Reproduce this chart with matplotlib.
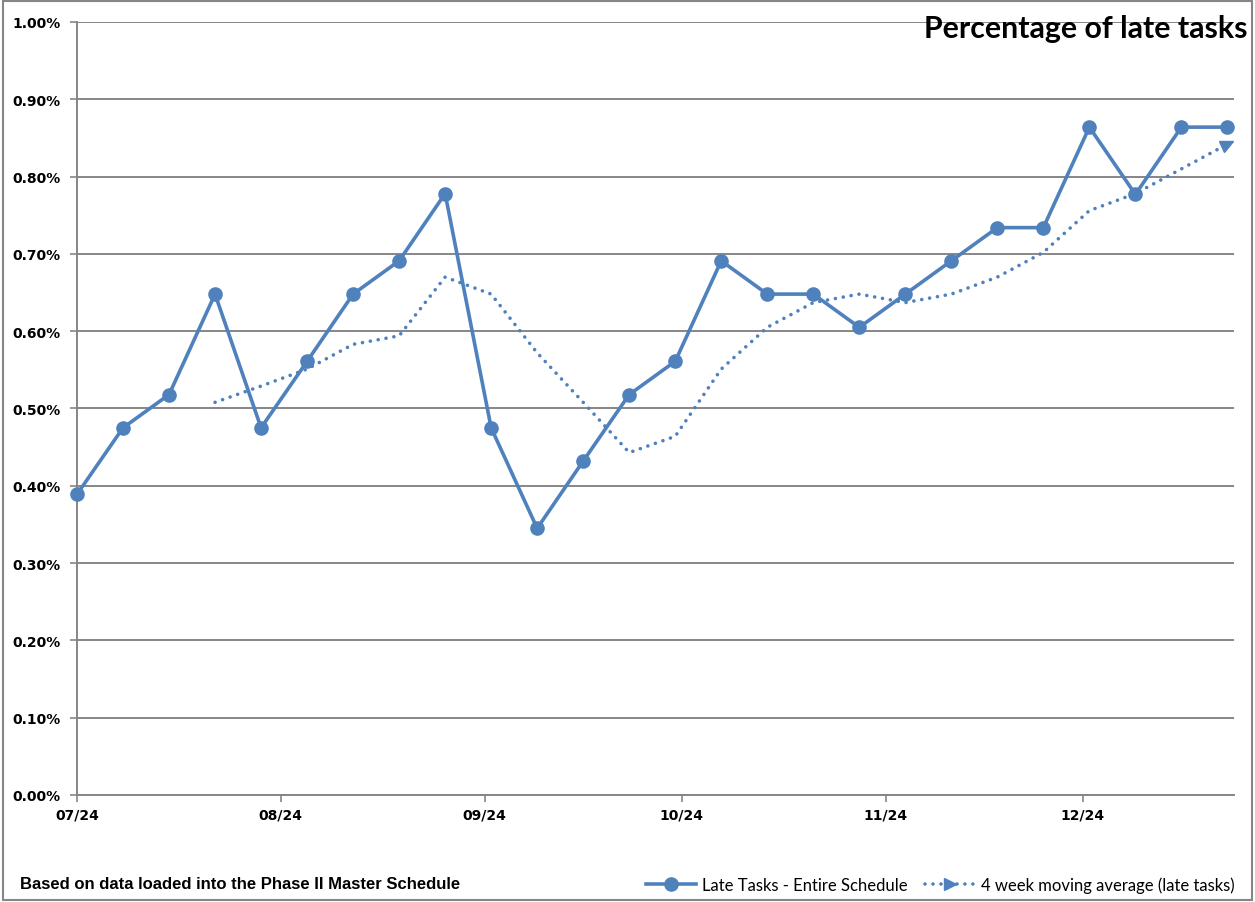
import numpy as np
import matplotlib.pyplot as plt
import matplotlib.dates as mdates
from matplotlib.patches import Rectangle
from matplotlib.lines import Line2D
from matplotlib.markers import MarkerStyle
from matplotlib.transforms import Affine2D
from matplotlib.ticker import PercentFormatter, MultipleLocator

# weekly dates (Mondays), Jul 1 - Dec 23 2024
weeks = np.arange(np.datetime64('2024-07-01'), np.datetime64('2024-12-30'), np.timedelta64(7, 'D'))

# late tasks, % of schedule
late_pct = [0.389, 0.475, 0.518, 0.648, 0.475, 0.561, 0.648, 0.691, 0.778, 0.475,
            0.345, 0.432, 0.518, 0.561, 0.691, 0.648, 0.648, 0.605, 0.648, 0.691,
            0.734, 0.734, 0.864, 0.777, 0.864, 0.864]

# 4 week moving average, starts at week 4
ma_pct = [0.508, 0.529, 0.551, 0.583, 0.594, 0.670, 0.648, 0.572, 0.508, 0.443,
          0.464, 0.551, 0.605, 0.637, 0.648, 0.637, 0.648, 0.670, 0.702, 0.756,
          0.778, 0.810, 0.842]

blue = '#4F81BD'
grey = '#868686'
dots = (0, (0.01, 2.2))

fig = plt.figure(figsize=(12.55, 9.03), dpi=100)
ax = fig.add_axes([77/1255, 1 - 796/903, (1234-77)/1255, (796-23)/903])

ax.plot(weeks, late_pct, color=blue, lw=2.6, marker='o', ms=9.5, clip_on=False,
        solid_joinstyle='round', zorder=3)
ax.plot(weeks[3:], ma_pct, color=blue, lw=2.6, ls=dots, dash_capstyle='round', zorder=3)
# arrow head at the end of the moving average, turned along the last segment
arrow = MarkerStyle('>', transform=Affine2D().rotate_deg(28))
ax.plot(weeks[-1:], ma_pct[-1:], color=blue, ls='none', marker=arrow, ms=9, zorder=3)

ax.set_ylim(0, 1.0)
ax.set_xlim(np.datetime64('2024-07-01'), np.datetime64('2024-12-24'))
ax.yaxis.set_major_locator(MultipleLocator(0.1))
ax.yaxis.set_major_formatter(PercentFormatter(decimals=2))
ax.xaxis.set_major_locator(mdates.MonthLocator())
ax.xaxis.set_major_formatter(mdates.DateFormatter('%m/%y'))

ax.grid(axis='y', color=grey, lw=1.4)
ax.set_axisbelow(True)
for s in ['top', 'right']:
    ax.spines[s].set_visible(False)
for s in ['left', 'bottom']:
    ax.spines[s].set_color(grey)
    ax.spines[s].set_linewidth(1.4)
ax.tick_params(axis='both', color=grey, width=1.2, length=5, direction='out')
for lab in ax.get_yticklabels() + ax.get_xticklabels():
    lab.set_fontfamily('DejaVu Sans')
    lab.set_fontweight('bold')
    lab.set_fontsize(10)
ax.tick_params(axis='y', pad=7)
ax.tick_params(axis='x', pad=4)

fig.text(1248/1255, 1 - 38/903, 'Percentage of late tasks', ha='right', va='baseline',
         fontsize=21.8, fontweight='bold', family='Lato')
fig.text(20/1255, 1 - 885/903, 'Based on data loaded into the Phase II Master Schedule',
         ha='left', va='center', fontsize=12, fontweight='bold', family='Liberation Sans')

handles = [Line2D([], [], color=blue, lw=2.6, marker='o', ms=9.5),
           Line2D([], [], color=blue, lw=2.6, ls=dots, dash_capstyle='round',
                  marker='>', ms=9, markevery=[1])]
labels = ['Late Tasks - Entire Schedule', '4 week moving average (late tasks)']
fig.legend(handles, labels, loc='center right', bbox_to_anchor=(1250/1255, 1 - 886/903),
           ncol=2, frameon=False, prop={'family': 'Lato', 'size': 12},
           handlelength=3.0, columnspacing=1.0, handletextpad=0.4)

fig.add_artist(Rectangle((0.002, 0.002), 0.996, 0.996, transform=fig.transFigure,
                         fill=False, ec=grey, lw=1.5))

plt.savefig('out.png')
